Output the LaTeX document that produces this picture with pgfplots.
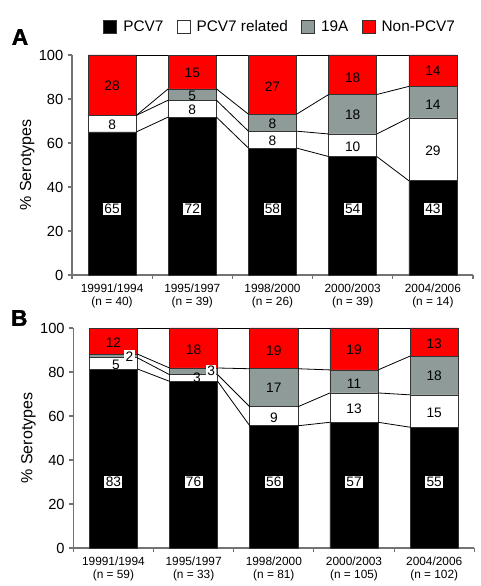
\documentclass[border=0pt]{standalone}
\usepackage{pgfplots}
\pgfplotsset{compat=1.18}
\usepackage{pgfplotstable}
\usepackage{fontspec}
\setmainfont{Liberation Sans}
\newfontfamily\heavy{Liberation Sans Bold}[FakeBold=1.5]
\definecolor{sgray}{RGB}{143,155,152}
\definecolor{sred}{RGB}{255,0,0}

% segment shares (percent of isolates) -- panel A
\pgfplotstableread{
x k w g r
0 65 7.5 0 27.5
1 71.79 7.69 5.13 15.38
2 57.69 7.69 7.69 26.92
3 53.85 10.26 17.95 17.95
4 42.86 28.57 14.29 14.29
}\dataA
% cumulative boundaries for connecting lines -- panel A
\pgfplotstableread{
x k w g t
0.3 65 72.5 72.5 100
0.7 71.79 79.49 84.62 100
1 nan nan nan nan
1.3 71.79 79.49 84.62 100
1.7 57.69 65.38 73.08 100
2 nan nan nan nan
2.3 57.69 65.38 73.08 100
2.7 53.85 64.10 82.05 100
3 nan nan nan nan
3.3 53.85 64.10 82.05 100
3.7 42.86 71.43 85.71 100
}\linesA
% panel B
\pgfplotstableread{
x k w g r
0 81.36 5.08 1.69 11.86
1 75.76 3.03 3.03 18.18
2 55.56 8.64 17.28 18.52
3 57.14 13.33 10.48 19.05
4 54.90 14.71 17.65 12.75
}\dataB
\pgfplotstableread{
x k w g t
0.3 81.36 86.44 88.14 100
0.7 75.76 78.79 81.82 100
1 nan nan nan nan
1.3 75.76 78.79 81.82 100
1.7 55.56 64.20 81.48 100
2 nan nan nan nan
2.3 55.56 64.20 81.48 100
2.7 57.14 70.48 80.95 100
3 nan nan nan nan
3.3 57.14 70.48 80.95 100
3.7 54.90 69.61 87.25 100
}\linesB

\pgfplotsset{
  panel/.style={scale only axis, width=300.75pt, height=165pt,
    xmin=-0.5, xmax=4.5, ymin=0, ymax=100, anchor=south west, clip=false},
  bars/.style={panel, ybar stacked, bar width=0.6,
    axis lines*=left,
    axis line style={draw=black!55, line width=0.8pt},
    tick align=outside, major tick length=3pt,
    tick style={draw=black!55, line width=0.8pt},
    xtick={-0.5,0.5,1.5,2.5,3.5,4.5}, x tick label as interval,
    ytick={0,20,40,60,80,100},
    /pgf/number format/assume math mode=true,
    yticklabel style={font=\fontsize{11}{12}\selectfont},
    xticklabel style={font=\fontsize{8.9}{9.8}\selectfont, align=center},
    ylabel={\% Serotypes},
    ylabel style={at={(axis description cs:-0.112,0.5)}, anchor=center,
      font=\fontsize{12}{14}\selectfont},
  },
  seg/.style={draw=black!80, line width=0.5pt},
  conn/.style={black, line width=0.6pt, no marks, forget plot},
}
\tikzset{
  blab/.style={fill=white, inner sep=1pt, font=\fontsize{10.3}{12}\selectfont},
  slab/.style={inner sep=1pt, font=\fontsize{10.3}{12}\selectfont},
}

\begin{document}
\begin{tikzpicture}
% ---------------- Panel A ----------------
\begin{axis}[bars, at={(54pt,233.25pt)},
  xticklabels={{19991/1994\\(n = 40)},{1995/1997\\(n = 39)},{1998/2000\\(n = 26)},{2000/2003\\(n = 39)},{2004/2006\\(n = 14)},{}}]
\addplot[seg, fill=black] table[x=x,y=k]{\dataA};
\addplot[seg, fill=white] table[x=x,y=w]{\dataA};
\addplot[seg, fill=sgray] table[x=x,y=g]{\dataA};
\addplot[seg, fill=sred] table[x=x,y=r]{\dataA};
\end{axis}
\begin{axis}[panel, at={(54pt,233.25pt)}, hide axis, unbounded coords=jump,
  legend columns=4,
  legend style={at={(0.52,1.127)}, anchor=center, draw=none, fill=none,
    font=\fontsize{11.5}{13}\selectfont,
    /tikz/every even column/.append style={column sep=8pt}}]
\addplot[conn] table[x=x,y=k]{\linesA};
\addplot[conn] table[x=x,y=w]{\linesA};
\addplot[conn] table[x=x,y=g]{\linesA};
\addplot[conn] table[x=x,y=t]{\linesA};
\addlegendimage{legend image code/.code={\filldraw[fill=black,draw=black!80,line width=0.5pt] (0pt,-4.9pt) rectangle (9.8pt,4.9pt); \path (12.5pt,0pt);}}
\addlegendentry{PCV7}
\addlegendimage{legend image code/.code={\filldraw[fill=white,draw=black!80,line width=0.5pt] (0pt,-4.9pt) rectangle (9.8pt,4.9pt); \path (12.5pt,0pt);}}
\addlegendentry{PCV7 related}
\addlegendimage{legend image code/.code={\filldraw[fill=sgray,draw=black!80,line width=0.5pt] (0pt,-4.9pt) rectangle (9.8pt,4.9pt); \path (12.5pt,0pt);}}
\addlegendentry{19A}
\addlegendimage{legend image code/.code={\filldraw[fill=sred,draw=black!80,line width=0.5pt] (0pt,-4.9pt) rectangle (9.8pt,4.9pt); \path (12.5pt,0pt);}}
\addlegendentry{Non-PCV7}
\node[blab] at (axis cs:0,30) {65};
\node[blab] at (axis cs:1,30) {72};
\node[blab] at (axis cs:2,30) {58};
\node[blab] at (axis cs:3,30) {54};
\node[blab] at (axis cs:4,30) {43};
\node[slab] at (axis cs:0,68.5) {8};
\node[slab] at (axis cs:1,74.9) {8};
\node[slab] at (axis cs:2,60.8) {8};
\node[slab] at (axis cs:3,58.5) {10};
\node[slab] at (axis cs:4,56.3) {29};
\node[slab] at (axis cs:1,81.3) {5};
\node[slab] at (axis cs:2,68.7) {8};
\node[slab] at (axis cs:3,72.8) {18};
\node[slab] at (axis cs:4,77.2) {14};
\node[slab] at (axis cs:0,85.8) {28};
\node[slab] at (axis cs:1,91.8) {15};
\node[slab] at (axis cs:2,85.8) {27};
\node[slab] at (axis cs:3,89.8) {18};
\node[slab] at (axis cs:4,92.8) {14};
\end{axis}
% ---------------- Panel B ----------------
\begin{axis}[bars, at={(55pt,28.5pt)},
  xticklabels={{19991/1994\\(n = 59)},{1995/1997\\(n = 33)},{1998/2000\\(n = 81)},{2000/2003\\(n = 105)},{2004/2006\\(n = 102)},{}}]
\addplot[seg, fill=black] table[x=x,y=k]{\dataB};
\addplot[seg, fill=white] table[x=x,y=w]{\dataB};
\addplot[seg, fill=sgray] table[x=x,y=g]{\dataB};
\addplot[seg, fill=sred] table[x=x,y=r]{\dataB};
\end{axis}
\begin{axis}[panel, at={(55pt,28.5pt)}, hide axis, unbounded coords=jump]
\addplot[conn] table[x=x,y=k]{\linesB};
\addplot[conn] table[x=x,y=w]{\linesB};
\addplot[conn] table[x=x,y=g]{\linesB};
\addplot[conn] table[x=x,y=t]{\linesB};
\node[blab] at (axis cs:0,30) {83};
\node[blab] at (axis cs:1,30) {76};
\node[blab] at (axis cs:2,30) {56};
\node[blab] at (axis cs:3,30) {57};
\node[blab] at (axis cs:4,30) {55};
\node[slab] at (axis cs:0.03,83.4) {5};
\node[slab] at (axis cs:1.04,77.2) {3};
\node[slab] at (axis cs:2,59.2) {9};
\node[slab] at (axis cs:3,63.2) {13};
\node[slab] at (axis cs:4,61.6) {15};
\node[slab, fill=white] at (axis cs:0.2,87.0) {2};
\node[slab, fill=white] at (axis cs:1.22,80.5) {3};
\node[slab] at (axis cs:2,72.7) {17};
\node[slab] at (axis cs:3,74.5) {11};
\node[slab] at (axis cs:4,78.3) {18};
\node[slab] at (axis cs:0,93.2) {12};
\node[slab] at (axis cs:1,90.2) {18};
\node[slab] at (axis cs:2,89.6) {19};
\node[slab] at (axis cs:3,90.1) {19};
\node[slab] at (axis cs:4,92.8) {13};
\end{axis}
% panel letters
\node at (15pt,411.75pt) {\fontsize{17}{20}\selectfont\heavy A};
\node at (14.5pt,201pt) {\fontsize{17}{20}\selectfont\heavy B};
\pgfresetboundingbox
\path[use as bounding box] (0pt,0pt) rectangle (360pt,439.5pt);
\end{tikzpicture}
\end{document}
